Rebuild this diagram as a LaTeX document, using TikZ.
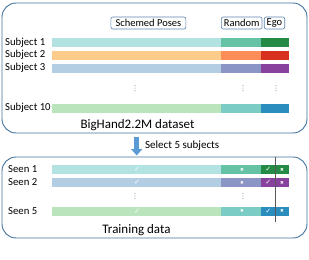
\documentclass[tikz,border=0pt]{standalone}
\usepackage{fontspec}
\setmainfont{Carlito}
\newfontfamily\symfont{DejaVu Sans}
\usetikzlibrary{arrows.meta}

\definecolor{framecol}{HTML}{41719C}
\definecolor{hdrcol}{HTML}{5B83AD}
\definecolor{arrcol}{HTML}{5B9BD5}
\definecolor{aL}{HTML}{B2E2E2}
\definecolor{aM}{HTML}{66C2A4}
\definecolor{aD}{HTML}{238B45}
\definecolor{bL}{HTML}{FDCC8A}
\definecolor{bM}{HTML}{FC8D59}
\definecolor{bD}{HTML}{D7301F}
\definecolor{cL}{HTML}{B3CDE3}
\definecolor{cM}{HTML}{8C96C6}
\definecolor{cD}{HTML}{88419D}
\definecolor{dL}{HTML}{BAE4BC}
\definecolor{dM}{HTML}{7BCCC4}
\definecolor{dD}{HTML}{2B8CBE}

\tikzset{
    frame/.style={draw=framecol, line width=0.9pt, rounded corners=14pt},
    hdr/.style={draw=hdrcol, line width=0.6pt, rounded corners=2pt,
        inner xsep=2.5pt, inner ysep=0pt, minimum height=12pt,
        font=\fontsize{10.5}{12}\selectfont},
    rowlab/.style={anchor=west, inner sep=0pt,
        font=\fontsize{10.7}{12}\selectfont},
    title/.style={font=\fontsize{13}{15}\selectfont},
    tick/.style={text=white, inner sep=0pt,
        font=\symfont\fontsize{7}{8}\selectfont},
    cross/.style={text=white, inner sep=0pt,
        font=\symfont\fontsize{4.5}{5}\selectfont},
    vdot/.style={fill=gray!90!black, draw=none}
}

\begin{document}
\begin{tikzpicture}[x=1pt, y=-1pt, >=stealth]

    \useasboundingbox (0,0) rectangle (309,260);

    \def\xa{52}
    \def\xb{221.5}
    \def\xc{261}
    \def\xd{289.5}

    % frames
    \draw[frame] (2,3) rectangle (307,133);
    \draw[frame] (2,157) rectangle (307,238);

    % headers
    \node[hdr, minimum width=75pt] (schemed) at (148.4,23) {Schemed Poses};
    \node[hdr] (random) at (241.7,23) {Random};
    \node[hdr] (ego) at (274.5,23) {Ego};

    % dataset rows
    \foreach \y/\lt/\md/\dk/\lab [count=\i] in {
        38.3/aL/aM/aD/Subject 1,
        51/bL/bM/bD/Subject 2,
        64/cL/cM/cD/Subject 3,
        104/dL/dM/dD/Subject 10
    }{
        \fill[\lt] (\xa,\y) rectangle (\xb,\y+8.7);
        \fill[\md] (\xb,\y) rectangle (\xc,\y+8.7);
        \fill[\dk] (\xc,\y) rectangle (\xd,\y+8.7);
        \node[rowlab] (sub\i) at (5,\y+4.2) {\lab};
    }

    % dots
    \foreach \x in {135,243,276}{
        \foreach \d in {-2.5,0,2.5}
            \fill[vdot] (\x,88+\d) circle (0.5pt);
    }

    \node[title] (dataset) at (137.5,125) {BigHand2.2M dataset};

    % selection arrow
    \coordinate (arrtop) at (136.7,136.5);
    \coordinate (arrbot) at (136.7,155.5);
    \draw[arrcol, line width=5pt, -{Triangle[width=11pt, length=6.5pt]}]
        (arrtop) -- (arrbot);
    \node[anchor=west, inner sep=0pt, font=\fontsize{11}{13}\selectfont]
        (select) at (145,146) {Select 5 subjects};

    % training rows
    \foreach \y/\lt/\md/\dk/\lab [count=\i] in {
        165.3/aL/aM/aD/Seen 1,
        178.3/cL/cM/cD/Seen 2,
        207/dL/dM/dD/Seen 5
    }{
        \fill[\lt] (\xa,\y) rectangle (\xb,\y+8.7);
        \fill[\md] (\xb,\y) rectangle (\xc,\y+8.7);
        \fill[\dk] (\xc,\y) rectangle (\xd,\y+8.7);
        \node[rowlab] (seen\i) at (8,\y+4.2) {\lab};
        \node[tick] (ok\i) at (137,\y+4.3) {✓};
        \node[cross] (no\i) at (242,\y+4.4) {✖};
        \node[tick] (egook\i) at (268.3,\y+4.3) {✓};
        \node[cross] (egono\i) at (282,\y+4.4) {✖};
    }

    \foreach \x in {135,243}{
        \foreach \d in {-2.5,0,2.5}
            \fill[vdot] (\x,196+\d) circle (0.5pt);
    }

    % split of ego data
    \coordinate (splittop) at (275.5,157);
    \coordinate (splitbot) at (275.5,222);
    \draw[gray!70!black, line width=0.5pt] (splittop) -- (splitbot);

    \node[title] (training) at (136.5,230.5) {Training data};

\end{tikzpicture}
\end{document}
